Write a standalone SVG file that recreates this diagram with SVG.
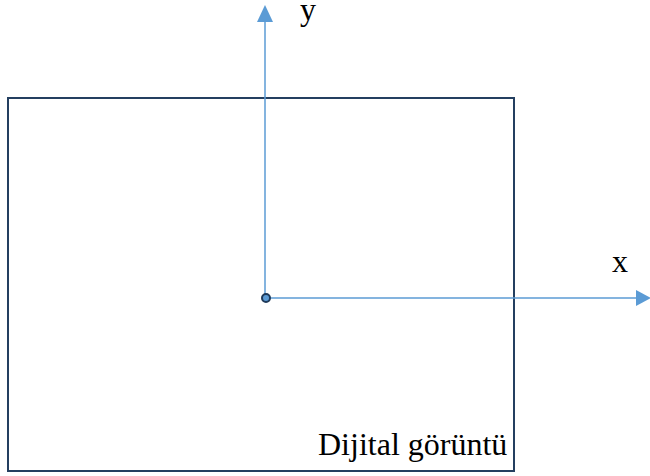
<svg xmlns="http://www.w3.org/2000/svg" width="650" height="476" viewBox="0 0 650 476">
<defs>
<style>
.lbl{font-family:'Liberation Serif','Times New Roman',serif;font-size:32px;fill:#000}
.axis{stroke:#5b9bd5;stroke-width:1.5;fill:none}
.head{fill:#5b9bd5}
</style>
</defs>
<rect width="650" height="476" fill="#fff"/>
<g id="image-frame">
<rect x="8" y="98" width="506" height="373" fill="none" stroke="#243f60" stroke-width="2"/>
<text class="lbl" x="318" y="455" font-family="Liberation Serif, serif">Dijital görüntü</text>
</g>
<g id="connectors">
<line class="axis" x1="265" y1="298" x2="265" y2="21"/>
<path class="head" d="M257,22 L265,5 L273,22 Z"/>
<line class="axis" x1="265" y1="298" x2="637" y2="298"/>
<path class="head" d="M636,290 L651,298 L636,306 Z"/>
</g>
<g id="origin">
<circle cx="266" cy="298" r="4" fill="#5b9bd5" stroke="#1f3a5a" stroke-width="2"/>
</g>
<g id="label-y"><text class="lbl" x="300" y="20" font-family="Liberation Serif, serif">y</text></g>
<g id="label-x"><text class="lbl" x="612" y="272" font-family="Liberation Serif, serif">x</text></g>
</svg>
